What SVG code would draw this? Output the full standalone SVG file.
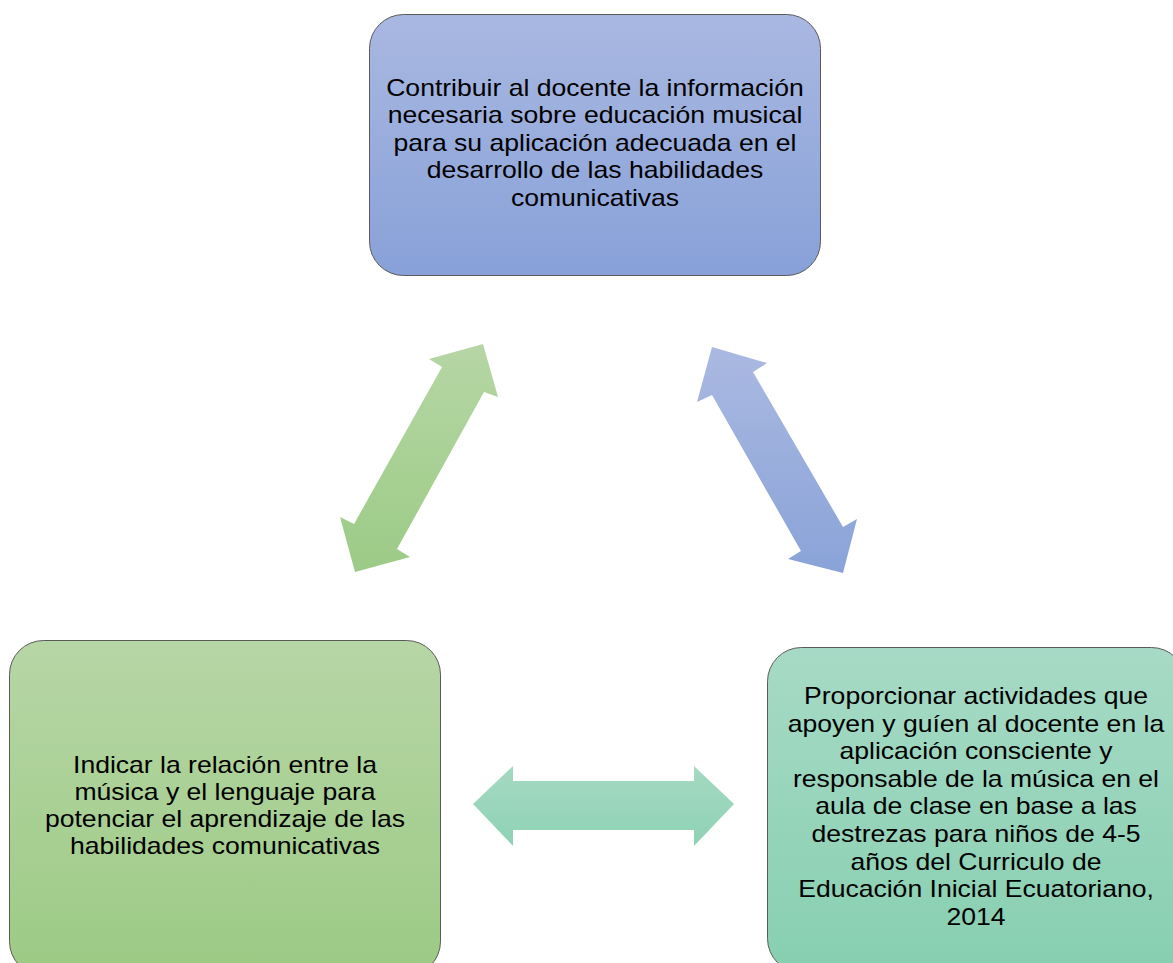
<svg xmlns="http://www.w3.org/2000/svg" width="1173" height="963" viewBox="0 0 1173 963">
<defs>
<linearGradient id="gBlue" x1="0" y1="0" x2="0" y2="1"><stop offset="0" stop-color="#a9b8e1"/><stop offset="1" stop-color="#88a1d8"/></linearGradient>
<linearGradient id="gGreen" x1="0" y1="0" x2="0" y2="1"><stop offset="0" stop-color="#b7d6a6"/><stop offset="1" stop-color="#9cca84"/></linearGradient>
<linearGradient id="gTeal" x1="0" y1="0" x2="0" y2="1"><stop offset="0" stop-color="#a7dac6"/><stop offset="1" stop-color="#87cfb0"/></linearGradient>
<linearGradient id="aGreen" gradientUnits="userSpaceOnUse" x1="0" y1="344" x2="0" y2="572"><stop offset="0" stop-color="#b6d6a5"/><stop offset="1" stop-color="#9ccb86"/></linearGradient>
<linearGradient id="aBlue" gradientUnits="userSpaceOnUse" x1="0" y1="347" x2="0" y2="573"><stop offset="0" stop-color="#aab9e1"/><stop offset="1" stop-color="#8aa3d8"/></linearGradient>
<linearGradient id="aTeal" gradientUnits="userSpaceOnUse" x1="0" y1="766" x2="0" y2="846"><stop offset="0" stop-color="#a5d9c2"/><stop offset="1" stop-color="#8ed2b4"/></linearGradient>
</defs>
<style>
.box{stroke:#5a5a5a;stroke-width:1}
.t{font-family:"Liberation Sans",Arial,sans-serif;font-size:24px;fill:#000;text-anchor:middle}
</style>
<g id="connectors">
<polygon fill="url(#aGreen)" points="483,344 498,397 484,392 397,549 410,557 355,572 340,517 354,524 442,367 429,359"/>
<polygon fill="url(#aBlue)" points="712,347 767,363 753,372 843,527 857,519 843,573 788,559 801,551 712,395 697,402"/>
<polygon fill="url(#aTeal)" points="473,804 513,766 513,781 694,781 694,766 734,804 694,846 694,830 513,830 513,846"/>
</g>
<g id="node-top">
<rect class="box" x="369.5" y="14.5" width="451" height="261" rx="34" fill="url(#gBlue)"/>
<text class="t" transform="translate(595 0) scale(1.107 1)"><tspan x="0" y="96">Contribuir al docente la información</tspan><tspan x="0" y="123.5">necesaria sobre educación musical</tspan><tspan x="0" y="151">para su aplicación adecuada en el</tspan><tspan x="0" y="178.5">desarrollo de las habilidades</tspan><tspan x="0" y="206">comunicativas</tspan></text>
</g>
<g id="node-left">
<rect class="box" x="9.5" y="640.5" width="431" height="335" rx="34" fill="url(#gGreen)"/>
<text class="t" transform="translate(225 0) scale(1.107 1)"><tspan x="0" y="773">Indicar la relación entre la</tspan><tspan x="0" y="800">música y el lenguaje para</tspan><tspan x="0" y="827">potenciar el aprendizaje de las</tspan><tspan x="0" y="854">habilidades comunicativas</tspan></text>
</g>
<g id="node-right">
<rect class="box" x="767.5" y="647.5" width="418" height="325" rx="34" fill="url(#gTeal)"/>
<text class="t" transform="translate(976 0) scale(1.107 1)"><tspan x="0" y="704">Proporcionar actividades que</tspan><tspan x="0" y="731.6">apoyen y guíen al docente en la</tspan><tspan x="0" y="759.2">aplicación consciente y</tspan><tspan x="0" y="786.8">responsable de la música en el</tspan><tspan x="0" y="814.4">aula de clase en base a las</tspan><tspan x="0" y="842">destrezas para niños de 4-5</tspan><tspan x="0" y="869.6">años del Curriculo de</tspan><tspan x="0" y="897.2">Educación Inicial Ecuatoriano,</tspan><tspan x="0" y="925">2014</tspan></text>
</g>
</svg>
